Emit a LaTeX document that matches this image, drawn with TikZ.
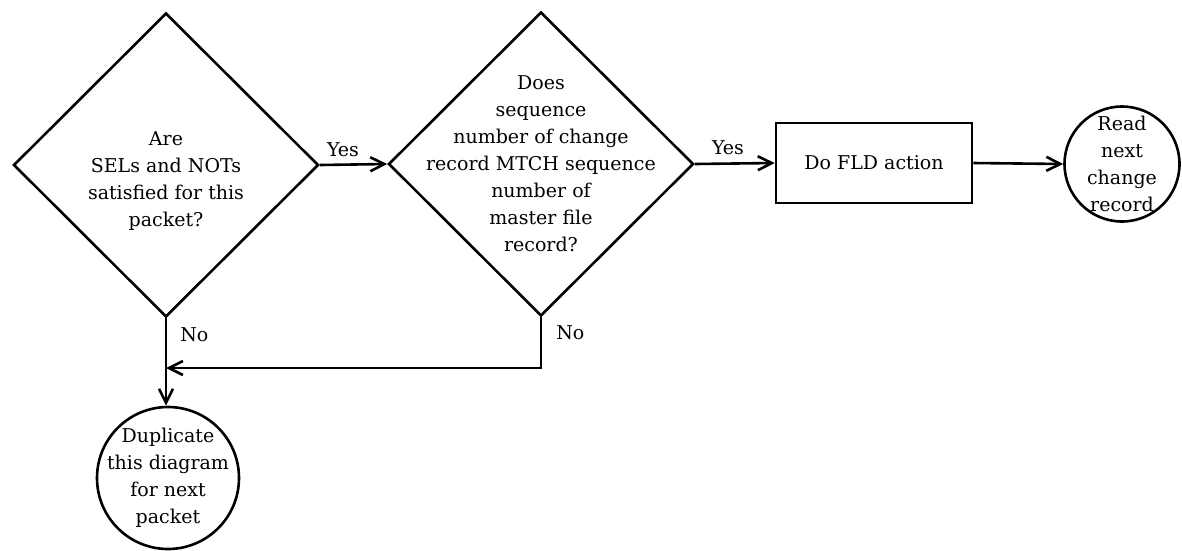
\documentclass[tikz,border=0pt]{standalone}
\usepackage{fontspec}
\setmainfont{DejaVu Serif}
\usetikzlibrary{shapes.geometric,arrows.meta}
\begin{document}
\begin{tikzpicture}[x=1pt,y=-1pt,
  line width=2.6pt,
  txt/.style={align=center,font=\fontsize{19}{27}\selectfont,inner sep=0pt},
  lbl/.style={font=\fontsize{19}{23}\selectfont,inner sep=0pt},
  decision/.style={draw,diamond,inner sep=0pt,minimum width=305pt,minimum height=304pt},
  process/.style={draw,rectangle,inner sep=0pt,minimum width=196pt,minimum height=80pt},
  terminal/.style={draw,circle,inner sep=0pt},
  flow/.style={-{Straight Barb[length=14pt,width=14pt]}}]
\useasboundingbox (0,0) rectangle (1182,550);

% decisions
\node[decision] (d1) at (166,165) {};
\node[txt] at (166,181) {Are\\SELs and NOTs\\satisfied for this\\packet?};
\node[decision] (d2) at (541,164) {};
\node[txt] at (541,164) {Does\\sequence\\number of change\\record MTCH sequence\\number of\\master file\\record?};

% action and terminals
\node[process] (act) at (874,163) {};
\node[txt] at (act) {Do FLD action};
\node[terminal,minimum size=115pt] (rd) at (1122,164) {};
\node[txt] at (rd) {Read\\next\\change\\record};
\node[terminal,minimum size=142pt] (dup) at (168,478) {};
\node[txt] at (dup) {Duplicate\\this diagram\\for next\\packet};

% connectors
\draw[flow] (d1.east) -- (d2.west);
\node[lbl] (y1) at (343,150) {Yes};
\draw[flow] (d2.east) -- (act.west);
\node[lbl] (y2) at (728,148) {Yes};
\draw[flow] (act.east) -- (rd.west);

\coordinate (j) at (d1.south |- 0,368);
\draw (d1.south) -- (j);
\draw[flow] (j) -- (j |- dup.north);
\node[lbl,anchor=west] (n1) at (179,335) {No};
\draw[flow] (d2.south) |- (j);
\node[lbl,anchor=west] (n2) at (555,333) {No};
\end{tikzpicture}
\end{document}
